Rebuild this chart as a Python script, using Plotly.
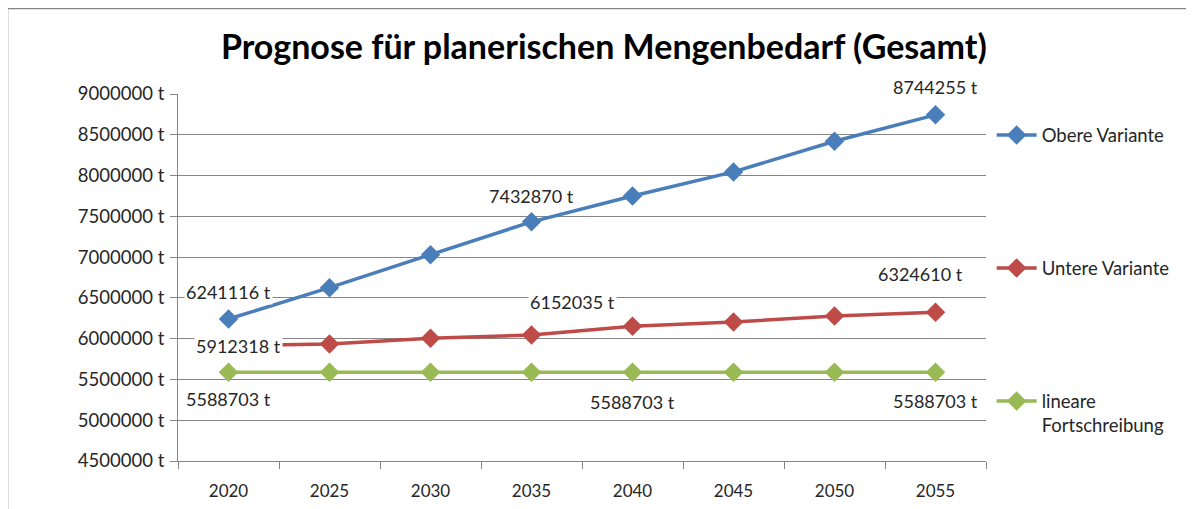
import plotly.graph_objects as go

years = [2020, 2025, 2030, 2035, 2040, 2045, 2050, 2055]
year_labels = ["2020", "2025", "2030", "2035", "2040", "2045", "2050", "2055"]
obere = [6241116, 6625000, 7030000, 7432870, 7750000, 8045000, 8420000, 8744255]
untere = [5912318, 5934000, 6005000, 6045000, 6152035, 6204000, 6278000, 6324610]
linear = [5588703, 5588703, 5588703, 5588703, 5588703, 5588703, 5588703, 5588703]

names = ["Obere Variante", "Untere Variante", "lineare<br>Fortschreibung"]
colors = ["#4A7EBB", "#BE4B48", "#98B954"]

# data labels: (series index, year index, xshift, yshift)
labels = [
    (0, 0, 0, 27), (0, 3, 0, 26), (0, 7, 0, 28),
    (1, 0, 10, 0), (1, 4, -60, 24), (1, 7, -15, 38),
    (2, 0, 0, -27), (2, 4, 0, -30), (2, 7, 0, -29),
]

series = [obere, untere, linear]
font = "Lato, 'Open Sans', sans-serif"

fig = go.Figure()
for i, (vals, name, col) in enumerate(zip(series, names, colors)):
    fig.add_trace(go.Scatter(
        x=years, y=vals, name=name, mode="lines+markers",
        line=dict(color=col, width=3.5),
        marker=dict(symbol="diamond", size=15, color=col),
        legendgroup=f"g{i}",
    ))

for s, k, xs, ys in labels:
    fig.add_annotation(
        x=years[k], y=series[s][k], text=f"{series[s][k]} t",
        showarrow=False, xshift=xs, yshift=ys,
        bgcolor="white", font=dict(size=18, color="#262626", family=font),
        borderpad=1,
    )

fig.add_shape(type="rect", xref="paper", yref="paper",
              x0=-0.2116, x1=1.6, y0=-0.6, y1=1.2343,
              line=dict(color="#868686", width=2.5), layer="above")

fig.update_layout(
    width=1194, height=509,
    margin=dict(l=170, r=216, t=86, b=56, autoexpand=False),
    paper_bgcolor="white", plot_bgcolor="white",
    font=dict(family=font, size=17, color="#262626"),
    title=dict(text="<b>Prognose für planerischen Mengenbedarf (Gesamt)</b>",
               x=0.499, xanchor="center", y=0.923, yanchor="middle",
               font=dict(size=34, color="black", family=font)),
    showlegend=True,
    legend=dict(x=1.007, xanchor="left", y=0.939, yanchor="top",
                tracegroupgap=106, valign="top",
                font=dict(size=18.5, color="#262626", family=font),
                itemwidth=40, bgcolor="rgba(0,0,0,0)"),
)
fig.update_xaxes(range=[2017.5, 2057.5], tickmode="array", tickvals=years,
                 ticktext=year_labels, ticks="", automargin=False,
                 minor=dict(tick0=2017.5, dtick=5, ticks="outside", ticklen=7,
                            tickcolor="#868686", showgrid=False),
                 showline=True, linecolor="#868686", linewidth=1,
                 showgrid=False, tickfont=dict(size=17), zeroline=False,
                 ticklabelstandoff=15)
fig.update_yaxes(range=[4500000, 9000000], dtick=500000, tick0=4500000,
                 tickformat="d", ticksuffix=" t", automargin=False,
                 showline=True, linecolor="#868686", linewidth=1,
                 ticks="outside", ticklen=7, tickcolor="#868686",
                 showgrid=True, gridcolor="#868686", gridwidth=1,
                 tickfont=dict(size=18.5), zeroline=False, ticklabelstandoff=2)

fig.write_html("out.html")
